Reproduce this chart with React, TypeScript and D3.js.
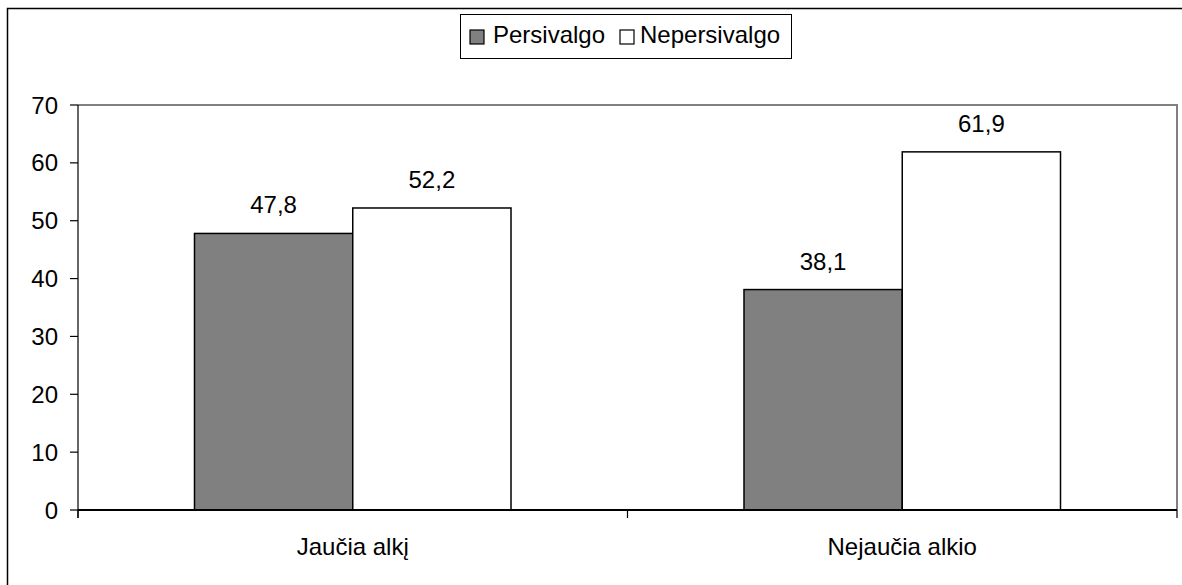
import React from "react";
import * as d3 from "d3";

const categories = ["Jaučia alkį", "Nejaučia alkio"];
const seriesNames = ["Persivalgo", "Nepersivalgo"];
const persivalgo = [47.8, 38.1];
const nepersivalgo = [52.2, 61.9];
const yTicks = [0, 10, 20, 30, 40, 50, 60, 70];
const seriesFills = ["#808080", "#ffffff"];

const W = 1182;
const H = 585;
const plot = { left: 78, right: 1177, top: 105, bottom: 510 };
const FONT = "'Liberation Sans', Arial, sans-serif";
const FS = 24;

export default function App() {
  const y = d3.scaleLinear().domain([0, 70]).range([plot.bottom, plot.top]);
  const x0 = d3.scaleBand<string>().domain(categories).range([plot.left, plot.right]).padding(0);
  const groupW = x0.bandwidth() * 0.576;
  const x1 = d3.scaleBand<string>().domain(seriesNames).range([0, groupW]).padding(0);
  const values = [persivalgo, nepersivalgo];
  const fmt = (v: number) => v.toFixed(1).replace(".", ",");

  return (
    <svg
      width={W}
      height={H}
      style={{ position: "absolute", left: 0, top: 0, background: "#fff" }}
      fontFamily={FONT}
    >
      {/* outer chart frame */}
      <rect x={7.5} y={8.5} width={1300} height={700} fill="none" stroke="#000" strokeWidth={1.5} />

      {/* plot area frame (top and right) */}
      <path
        d={`M${plot.left},${plot.top}H${plot.right}V${plot.bottom}`}
        fill="none"
        stroke="#808080"
        strokeWidth={2}
      />

      {/* y axis */}
      <line x1={plot.left} x2={plot.left} y1={plot.top} y2={plot.bottom + 8} stroke="#000" strokeWidth={1.2} />
      {yTicks.map((t) => (
        <g key={t}>
          <line x1={plot.left - 8} x2={plot.left} y1={y(t)} y2={y(t)} stroke="#000" strokeWidth={1.2} />
          <text x={58} y={y(t)} dy="0.36em" textAnchor="end" fontSize={FS} fill="#000">
            {t}
          </text>
        </g>
      ))}

      {/* bars */}
      {categories.map((c, ci) => {
        const gx = (x0(c) ?? 0) + (x0.bandwidth() - groupW) / 2;
        return (
          <g key={c}>
            {seriesNames.map((s, si) => {
              const v = values[si][ci];
              const bx = gx + (x1(s) ?? 0);
              return (
                <g key={s}>
                  <rect
                    x={bx}
                    y={y(v)}
                    width={x1.bandwidth()}
                    height={y(0) - y(v)}
                    fill={seriesFills[si]}
                    stroke="#000"
                    strokeWidth={1.5}
                  />
                  <text
                    x={bx + x1.bandwidth() / 2}
                    y={y(v) - 20}
                    textAnchor="middle"
                    fontSize={FS}
                    fill="#000"
                  >
                    {fmt(v)}
                  </text>
                </g>
              );
            })}
          </g>
        );
      })}

      {/* x axis */}
      <line x1={plot.left} x2={plot.right} y1={plot.bottom} y2={plot.bottom} stroke="#000" strokeWidth={2} />
      {[plot.left, ...categories.slice(1).map((c) => x0(c) ?? 0), plot.right].map((tx, i) => (
        <line key={i} x1={tx} x2={tx} y1={plot.bottom} y2={plot.bottom + 8} stroke="#000" strokeWidth={1.2} />
      ))}
      {categories.map((c) => (
        <text
          key={c}
          x={(x0(c) ?? 0) + x0.bandwidth() / 2}
          y={555}
          textAnchor="middle"
          fontSize={FS}
          fill="#000"
        >
          {c}
        </text>
      ))}

      {/* legend */}
      <rect x={460.5} y={14.5} width={331} height={44} fill="#fff" stroke="#000" strokeWidth={1} />
      <rect x={470} y={30} width={14} height={14} fill={seriesFills[0]} stroke="#000" strokeWidth={1.2} />
      <text x={493} y={43} fontSize={FS} fill="#000">
        {seriesNames[0]}
      </text>
      <rect x={620} y={30} width={14} height={14} fill={seriesFills[1]} stroke="#000" strokeWidth={1.2} />
      <text x={640} y={43} fontSize={FS} fill="#000">
        {seriesNames[1]}
      </text>
    </svg>
  );
}
